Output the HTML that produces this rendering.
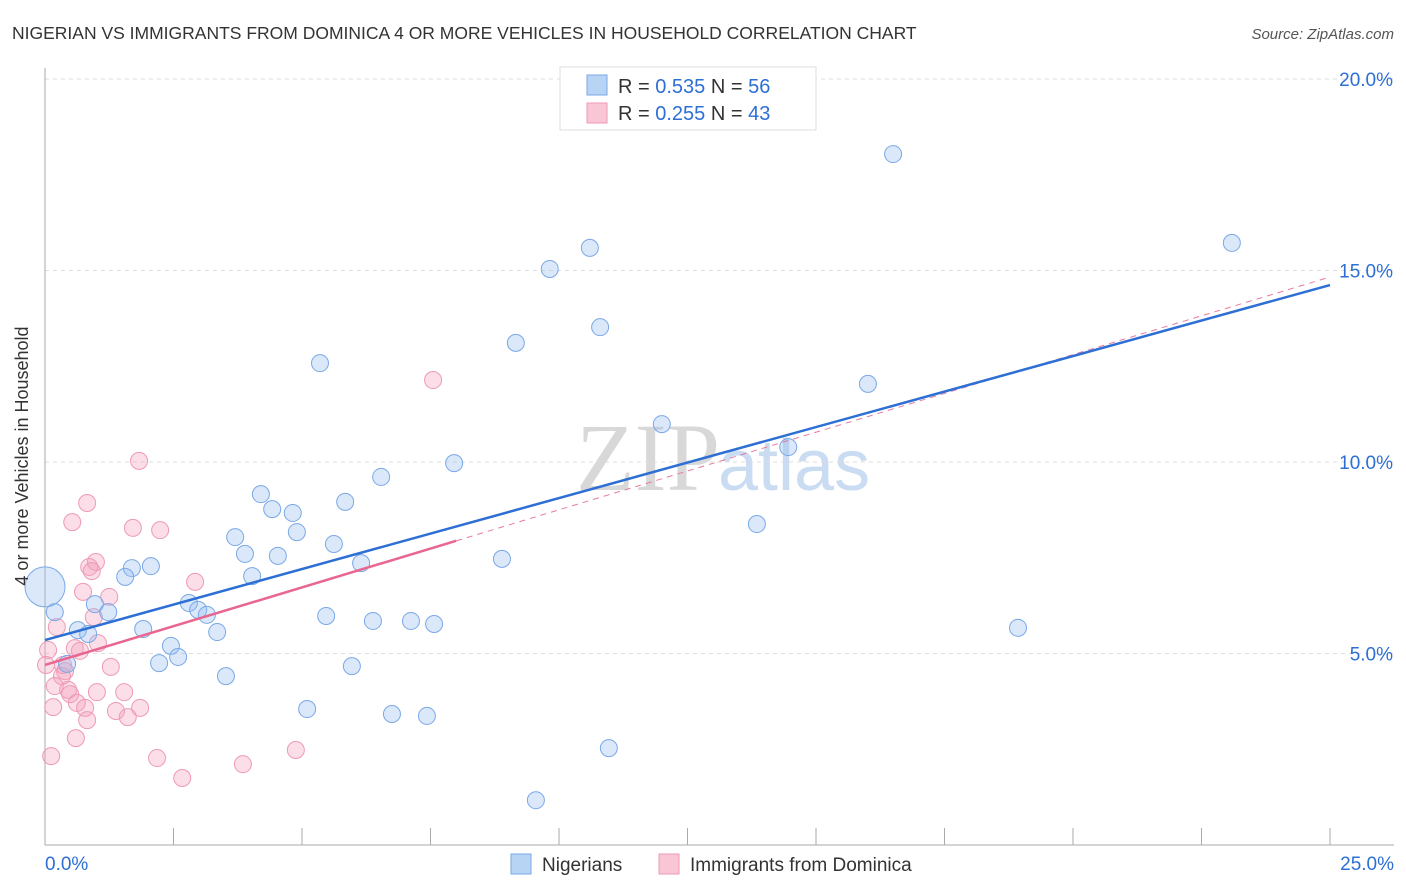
<!DOCTYPE html>
<html><head><meta charset="utf-8"><style>
body{margin:0;background:#fff;font-family:"Liberation Sans",sans-serif}
#c{position:absolute;left:0;top:0}
</style></head><body>
<svg id="c" width="1406" height="892" xmlns="http://www.w3.org/2000/svg">
<text x="12" y="39" font-size="17.5" fill="#333">NIGERIAN VS IMMIGRANTS FROM DOMINICA 4 OR MORE VEHICLES IN HOUSEHOLD CORRELATION CHART</text>
<text x="1394" y="39" font-size="15" fill="#555" font-style="italic" text-anchor="end">Source: ZipAtlas.com</text>
<text x="720" y="490" font-size="96" fill="#d8d8d8" font-family="Liberation Serif" text-anchor="end">ZIP</text>
<text x="718" y="490" font-size="72" fill="#c9dcf2">atlas</text>
<g id="grid"></g>
<g id="axes"></g>
<g id="pts"></g>
<g id="trend"></g>
<text x="28" y="456" font-size="18" fill="#333" text-anchor="middle" transform="rotate(-90 28 456)">4 or more Vehicles in Household</text>
<g>
<rect x="560" y="67" width="256" height="63" fill="#fff" stroke="#ddd"/>
<rect x="587" y="75" width="20" height="20" fill="#b8d4f5" stroke="#7aa8e6"/>
<rect x="587" y="103" width="20" height="20" fill="#f9c6d5" stroke="#ee9ab4"/>
<text x="618" y="93" font-size="20" fill="#333">R = <tspan fill="#2d6fd4">0.535</tspan>   N = <tspan fill="#2d6fd4">56</tspan></text>
<text x="618" y="120" font-size="20" fill="#333">R = <tspan fill="#2d6fd4">0.255</tspan>   N = <tspan fill="#2d6fd4">43</tspan></text>
</g>
<g>
<rect x="511" y="854" width="20" height="20" fill="#b8d4f5" stroke="#7aa8e6"/>
<text x="542" y="871" font-size="19" fill="#333">Nigerians</text>
<rect x="659" y="854" width="20" height="20" fill="#f9c6d5" stroke="#ee9ab4"/>
<text x="690" y="871" font-size="19" fill="#333">Immigrants from Dominica</text>
</g>
</svg>
<script>
const xTicks=[0,2.5,5,7.5,10,12.5,15,17.5,20,22.5,25];
const yTicks=[5,10,15,20];
const yTickLabels=["5.0%","10.0%","15.0%","20.0%"];
const blueX=[16.5,23.09,10.6,9.82,10.8,9.16,5.35,16.01,12.0,14.46,7.96,6.54,4.2,5.84,4.42,4.82,13.85,4.9,3.7,5.62,3.89,4.53,2.06,1.69,8.89,6.15,1.56,4.03,0.97,2.8,0.19,2.98,1.23,3.15,5.47,6.38,7.12,7.57,18.93,0.64,1.91,3.35,0.84,2.45,2.59,2.22,0.43,5.97,3.52,5.1,6.75,7.43,10.97,9.55,0.0];
const blueY=[18.04,15.72,15.59,15.04,13.52,13.11,12.58,12.04,10.99,10.39,9.97,9.61,9.16,8.96,8.77,8.67,8.38,8.17,8.04,7.86,7.6,7.55,7.28,7.23,7.47,7.36,7.0,7.02,6.29,6.32,6.08,6.14,6.08,6.01,5.98,5.85,5.85,5.77,5.67,5.61,5.64,5.56,5.51,5.2,4.91,4.75,4.73,4.67,4.41,3.55,3.42,3.37,2.53,1.17,6.74];
const pinkX=[7.55,1.83,0.82,0.53,1.71,2.24,0.99,0.86,0.91,2.92,0.74,1.25,0.95,0.23,1.03,0.58,0.68,0.06,1.28,0.35,0.39,0.33,0.19,0.45,1.01,1.54,0.49,0.16,0.62,0.78,1.38,1.85,0.82,1.61,0.6,0.12,2.18,3.85,2.67,4.88,0.02];
const pinkY=[12.14,10.03,8.93,8.43,8.28,8.22,7.39,7.26,7.15,6.87,6.61,6.48,5.95,5.69,5.27,5.14,5.07,5.09,4.65,4.7,4.54,4.41,4.15,4.05,3.99,3.99,3.94,3.6,3.71,3.58,3.5,3.58,3.26,3.34,2.79,2.32,2.27,2.11,1.75,2.48,4.7];
const blueTrend=[5.35,14.62];
const pinkTrend=[4.7,14.83];
const pinkSolidEnd=8.0;
const NS="http://www.w3.org/2000/svg";
const sx=v=>45+v*51.4, sy=v=>845-v*38.3;
function mk(p,t,a){const e=document.createElementNS(NS,t);for(const k in a)e.setAttribute(k,a[k]);document.getElementById(p).appendChild(e);return e;}
yTicks.forEach((t,i)=>{
 const g=mk('grid','line',{x1:45,x2:1394,y1:sy(t),y2:sy(t),stroke:'#ddd','stroke-dasharray':'4,4'});
 
 
 const l=mk('axes','text',{x:1393,y:sy(t)+7,'font-size':19,fill:'#2d6fd4','text-anchor':'end'});
 l.textContent=yTickLabels[i];
 
 
});
mk('axes','line',{x1:45,x2:45,y1:68,y2:845,stroke:'#aaa'});
mk('axes','line',{x1:45,x2:1394,y1:845,y2:845,stroke:'#aaa'});
xTicks.forEach(t=>{
 const e=mk('axes','line',{x1:sx(t),x2:sx(t),y1:828,y2:845,stroke:'#aaa'});
 
 
});
const x0=mk('axes','text',{x:45,y:870,'font-size':19,fill:'#2d6fd4'});x0.textContent='0.0%';


const x1=mk('axes','text',{x:1394,y:870,'font-size':19,fill:'#2d6fd4','text-anchor':'end'});x1.textContent='25.0%';


pinkX.forEach((x,i)=>{
 const c=mk('pts','circle',{cx:sx(x),cy:sy(pinkY[i]),r:8.5,fill:'rgba(244,160,188,0.35)',stroke:'#ee9ab4','stroke-width':1});
 
 
});
blueX.forEach((x,i)=>{
 const big=i==blueX.length-1;
 const c=mk('pts','circle',{cx:sx(x),cy:sy(blueY[i]),r:big?20:8.5,fill:'rgba(150,190,240,0.35)',stroke:'#7aa8e6','stroke-width':1});
 
 
});
const pd=mk('trend','line',{x1:sx(pinkSolidEnd),y1:sy(pinkTrend[0]+(pinkTrend[1]-pinkTrend[0])*pinkSolidEnd/25),x2:sx(25),y2:sy(pinkTrend[1]),stroke:'#e87aa0','stroke-width':1,'stroke-dasharray':'6,5'});


const bt=mk('trend','line',{x1:sx(0),y1:sy(blueTrend[0]),x2:sx(25),y2:sy(blueTrend[1]),stroke:'#2d6fd4','stroke-width':2.5});


const pt=mk('trend','line',{x1:sx(0),y1:sy(pinkTrend[0]),x2:sx(pinkSolidEnd),y2:sy(pinkTrend[0]+(pinkTrend[1]-pinkTrend[0])*pinkSolidEnd/25),stroke:'#e8668f','stroke-width':2.5});


</script>
</body></html>
